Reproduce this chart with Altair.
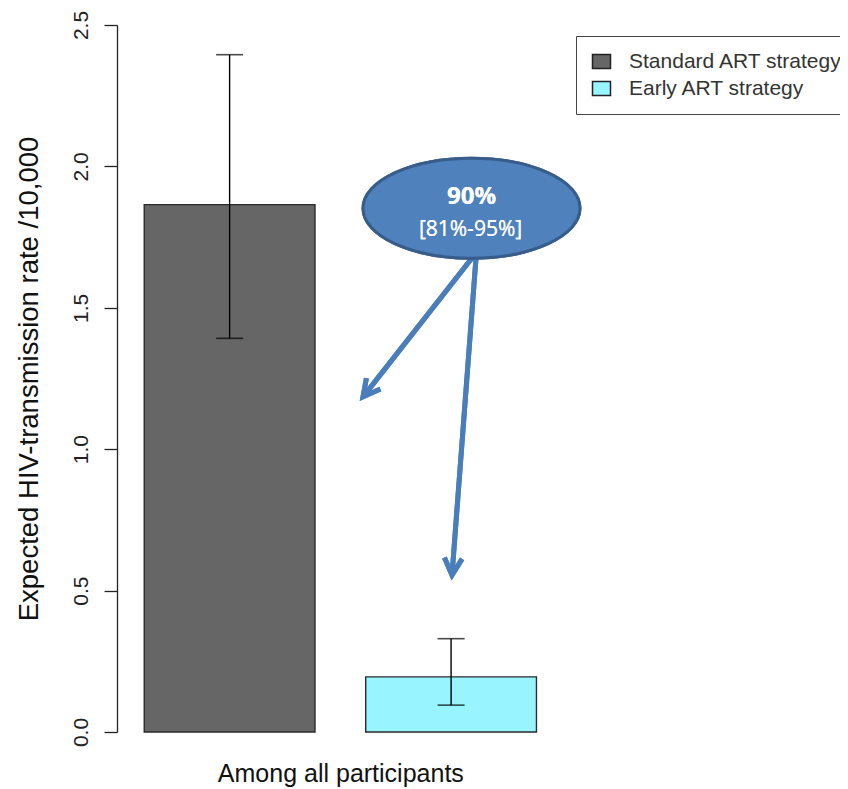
import altair as alt
import pandas as pd

# ---- data ----
groups = ["Standard ART strategy", "Early ART strategy"]
rates = [1.865, 0.195]
lower = [1.392, 0.095]
upper = [2.395, 0.330]
colors = ["#666666", "#98F5FF"]

y_ticks = [0.0, 0.5, 1.0, 1.5, 2.0, 2.5]

# annotation (reduction estimate)
ann_main = "90%"
ann_ci = "[81%-95%]"
ann_center_y = 1.852
ann_main_y = 1.893
ann_ci_y = 1.776
arrow_start_y = 1.676
arrow_tip_y = [1.185, 0.555]

df = pd.DataFrame({"group": groups, "rate": rates, "lower": lower, "upper": upper})

PLOT_W = 446.7
PLOT_H = 707

x_enc = alt.X(
    "group:N",
    sort=groups,
    scale=alt.Scale(paddingInner=0.229, paddingOuter=0.123),
    axis=alt.Axis(
        title="Among all participants",
        labels=False, ticks=False, domain=False,
        titleFont="Liberation Sans", titleFontSize=25, titleFontWeight="normal",
        titleColor="#111111", titleX=PLOT_W / 2, titleY=49,
        titleAlign="center", titleBaseline="alphabetic",
    ),
)
y_enc = alt.Y(
    "rate:Q",
    scale=alt.Scale(domain=[0, 2.5], nice=False, zero=True),
    axis=alt.Axis(
        title="Expected HIV-transmission rate /10,000",
        values=y_ticks, format=".1f", grid=False,
        labelAngle=-90, labelAlign="center", labelBaseline="bottom",
        labelFont="Liberation Sans", labelFontSize=21, labelColor="#222222",
        labelPadding=13, tickSize=13, tickColor="#222222", tickWidth=1.3,
        domainColor="#222222", domainWidth=1.3,
        titleFont="Liberation Sans", titleFontSize=27.5, titleFontWeight="normal",
        titleColor="#111111", titleAngle=-90, titleX=-80, titleY=PLOT_H / 2,
        titleAlign="center", titleBaseline="alphabetic",
    ),
)

legend_shape = "M -1 -0.78 L 1 -0.78 L 1 0.78 L -1 0.78 Z"

bars = alt.Chart(df).mark_bar(stroke="#2a2a2a", strokeWidth=1.4).encode(
    x=x_enc,
    y=y_enc,
    color=alt.Color(
        "group:N",
        sort=groups,
        scale=alt.Scale(domain=groups, range=colors),
        legend=alt.Legend(
            title=None, orient="none", legendX=459, legendY=11,
            symbolType=legend_shape, symbolSize=324,
            symbolStrokeColor="#222222", symbolStrokeWidth=1.5,
            labelFont="Liberation Sans", labelFontSize=21, labelColor="#333333",
            labelLimit=400, labelOffset=17, rowPadding=5, padding=15,
            strokeColor="#444444", fillColor="white",
        ),
    ),
)

err = alt.Chart(df).mark_rule(color="black", strokeWidth=1.4).encode(
    x=alt.X("group:N", sort=groups),
    y=alt.Y("lower:Q"),
    y2="upper:Q",
)
cap_hi = alt.Chart(df).mark_tick(color="black", thickness=1.6, size=27).encode(
    x=alt.X("group:N", sort=groups), y=alt.Y("upper:Q")
)
cap_lo = alt.Chart(df).mark_tick(color="black", thickness=1.6, size=27).encode(
    x=alt.X("group:N", sort=groups), y=alt.Y("lower:Q")
)

ARROW_COLOR = "#4A7EBB"
arrow_x_start = [355, 359]
arrow_x_tip = [246, 335]
arrow_angles = [218.1, 184.3]
chevron = "M -0.5 0.95 L 0 0 L 0.5 0.95"

arrow_layers = []
for xs, xt, yt, ang in zip(arrow_x_start, arrow_x_tip, arrow_tip_y, arrow_angles):
    arrow_layers.append(
        alt.Chart(df).mark_rule(color=ARROW_COLOR, strokeWidth=5).encode(
            x=alt.value(xs), x2=alt.value(xt),
            y=alt.datum(arrow_start_y), y2=alt.datum(yt),
        )
    )
    arrow_layers.append(
        alt.Chart(df).mark_point(
            shape=chevron, size=1260, filled=False, color=ARROW_COLOR,
            strokeWidth=5, opacity=1, angle=ang, strokeJoin="miter",
        ).encode(x=alt.value(xt), y=alt.datum(yt))
    )

ellipse_shape = "M -1 0 A 1 0.461 0 1 1 1 0 A 1 0.461 0 1 1 -1 0 Z"
ellipse = alt.Chart(df).mark_point(
    shape=ellipse_shape, size=217 * 217, filled=True, fill="#4F81BD",
    stroke="#385D8A", strokeWidth=3, opacity=1, fillOpacity=1, strokeOpacity=1,
).encode(x=alt.value(354.5), y=alt.datum(ann_center_y))

txt_main = alt.Chart(df).mark_text(
    text=ann_main, font="Open Sans", fontSize=24, fontWeight="bold",
    color="white", align="center", baseline="middle",
).encode(x=alt.value(354.5), y=alt.datum(ann_main_y))
txt_ci = alt.Chart(df).mark_text(
    text=ann_ci, font="Open Sans", fontSize=21,
    color="white", align="center", baseline="middle",
).encode(x=alt.value(353.5), y=alt.datum(ann_ci_y))

chart = alt.layer(
    bars, err, cap_hi, cap_lo, *arrow_layers, ellipse, txt_main, txt_ci
).properties(
    width=PLOT_W, height=PLOT_H,
    background="white",
    autosize=alt.AutoSizeParams(type="none"),
    padding={"left": 109, "top": 17, "right": 832 - 109 - PLOT_W, "bottom": 781 - 17 - PLOT_H},
).configure_view(stroke=None, strokeWidth=0)

chart.save("out.html", embed_options={"renderer": "svg", "actions": False})
